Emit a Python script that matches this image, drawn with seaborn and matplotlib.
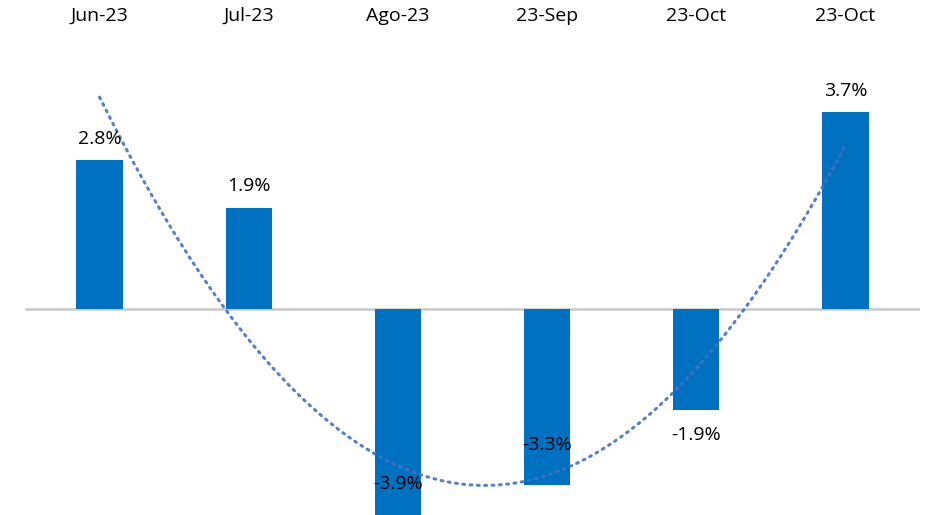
import numpy as np
import pandas as pd
import matplotlib
matplotlib.use("Agg")
import matplotlib.pyplot as plt
import matplotlib.transforms as mtransforms
import seaborn as sns

# Monthly variation (%)
months = ["Jun-23", "Jul-23", "Ago-23", "23-Sep", "23-Oct", "23-Oct"]
variation = [2.8, 1.9, -3.9, -3.3, -1.9, 3.7]
value_labels = ["2.8%", "1.9%", "-3.9%", "-3.3%", "-1.9%", "3.7%"]
# vertical position of each value label, in pixels from the bar end
label_offsets = [21, 22, 32, 40, -25, 21]

BAR_COLOR = "#0070C0"
TREND_COLOR = "#4472C4"

sns.set_theme(style="white")
plt.rcParams["font.family"] = ["Open Sans", "DejaVu Sans"]

fig = plt.figure(figsize=(9.28, 5.15), dpi=100)
ax = fig.add_axes([25 / 928, 0.0, 895 / 928, 1.0])

pos = np.arange(len(months))
df = pd.DataFrame({"pos": pos, "variation": variation})
sns.barplot(data=df, x="pos", y="variation", color=BAR_COLOR, saturation=1,
            width=0.31, linewidth=0, ax=ax, zorder=2)

# zero baseline
ax.axhline(0, color="#C9C9C9", linewidth=1.8, zorder=1)

# second-order polynomial trendline
coef = np.polyfit(pos + 1, variation, 2)
xs = np.linspace(1, len(months), 300)
ax.plot(xs - 1, np.polyval(coef, xs), color=TREND_COLOR, linewidth=2.2,
        linestyle=(0, (0.6, 1.8)), dash_capstyle="round", zorder=3, alpha=0.9)

# value labels
for x, v, lab, off in zip(pos, variation, value_labels, label_offsets):
    ax.annotate(lab, (x, v), xytext=(0, off), textcoords="offset pixels",
                ha="center", va="center", fontsize=14, color="#000000",
                zorder=4, annotation_clip=False)

# category labels along the top
trans = mtransforms.blended_transform_factory(ax.transData, ax.transAxes)
for x, m in zip(pos, months):
    ax.text(x, 1 - 16 / 515, m, transform=trans, ha="center", va="center",
            fontsize=14, color="#000000")

px_per_unit = 53.2
ax.set_xlim(-0.5, len(months) - 0.5)
ax.set_ylim(-(515 - 309) / px_per_unit, 309 / px_per_unit)
ax.set_xticks([])
ax.set_yticks([])
ax.set_xlabel("")
ax.set_ylabel("")
sns.despine(ax=ax, left=True, bottom=True)

fig.savefig("out.png", dpi=100, facecolor="white")
